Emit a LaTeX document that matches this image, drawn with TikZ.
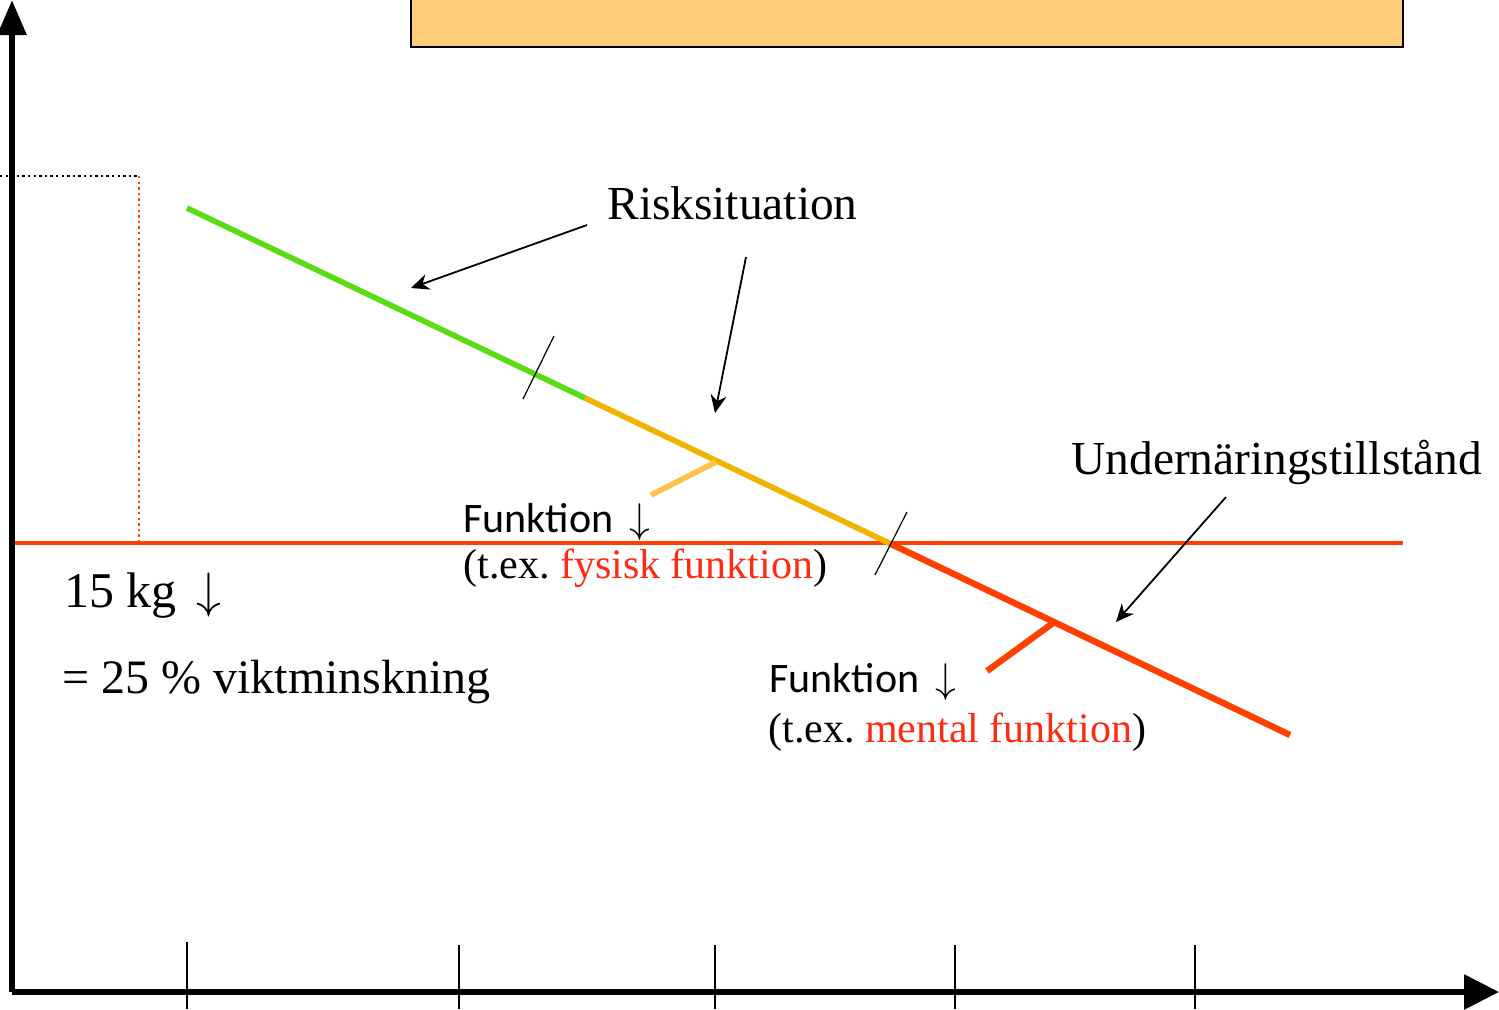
\documentclass[tikz,border=0pt]{standalone}
\usepackage{fontspec}
\setmainfont{Liberation Serif}
\newfontfamily\calfont{Carlito}
\usetikzlibrary{arrows.meta}
\definecolor{boxfill}{HTML}{FFCC77}
\definecolor{lgreen}{HTML}{5ADC14}
\definecolor{gold}{HTML}{F0B400}
\definecolor{redline}{HTML}{FF4000}
\definecolor{lorange}{HTML}{FFC24A}
\definecolor{txtred}{HTML}{FF2A10}
\newcommand{\dnarr}{\hspace{3.5pt}$\downarrow$}
\tikzset{
  axis/.style={line width=3pt},
  thin tick/.style={line width=0.6pt},
  callout/.style={line width=0.9pt,-{Stealth[length=9pt,width=8pt]}},
  dotline/.style={line width=1.1pt,dash pattern=on 1.2pt off 1.6pt},
  bigtxt/.style={anchor=base west,inner sep=0pt,font=\fontsize{23.7}{28}\selectfont},
  lbltxt/.style={anchor=base west,inner sep=0pt,font=\fontsize{21}{25}\selectfont},
  caltxt/.style={anchor=base west,inner sep=0pt,font=\calfont\fontsize{21}{25}\selectfont},
}
\begin{document}
\frenchspacing
\begin{tikzpicture}[x=0.5pt,y=-0.5pt]
\useasboundingbox (0,0) rectangle (1499,1009);
\clip (0,0) rectangle (1499,1009);
% top box
\draw[fill=boxfill,line width=1.2pt] (411,-10) rectangle (1403,47);
% dotted guides
\coordinate (d0) at (0,176);
\coordinate (d1) at (139,176);
\coordinate (d2) at (139,543);
\draw[dotline] (d0) -- (d1);
\draw[dotline,redline] (d1) -- (d2);
% horizontal red line
\coordinate (h0) at (12,543);
\coordinate (h1) at (1403,543);
\draw[redline,line width=1.9pt] (h0) -- (h1);
% diagonal
\coordinate (g0) at (187,208);
\coordinate (g1) at (585,398);
\coordinate (o1) at (890,543.5);
\coordinate (r1) at (1290,735);
\draw[lgreen,line width=2.8pt] (g0) -- (g1);
\draw[gold,line width=2.8pt] (g1) -- (o1);
\draw[redline,line width=3.2pt] (o1) -- (r1);
% branches
\coordinate (b0) at (716,462);
\coordinate (b1) at (651,495);
\draw[lorange,line width=2.8pt] (b0) -- (b1);
\coordinate (c0) at (1053,623);
\coordinate (c1) at (987,671);
\draw[redline,line width=3.2pt] (c0) -- (c1);
% slash marks
\coordinate (s0) at (523,399);
\coordinate (s1) at (554,336);
\draw[thin tick] (s0) -- (s1);
\coordinate (t0) at (875,575);
\coordinate (t1) at (907,512);
\draw[thin tick] (t0) -- (t1);
% axes
\coordinate (origin) at (12,992);
\coordinate (ytop) at (12,0);
\coordinate (xend) at (1499,992);
\draw[axis,-{Triangle[length=17.5pt,width=14pt]}] (origin) -- (ytop);
\draw[axis,-{Triangle[length=17.5pt,width=17pt]}] (origin) -- (xend);
% bottom ticks
\foreach \xx/\yy [count=\i] in {187/942,459/945,715/945,955/945,1195/945}{
  \coordinate (k\i a) at (\xx,\yy);
  \coordinate (k\i b) at (\xx,1009);
  \draw[thin tick] (k\i a) -- (k\i b);
}
% labels
\node[bigtxt] (risk) at (607,219) {Risksituation};
\node[bigtxt] (under) at (1071,474) {Undernäringstillstånd};
\coordinate (ra0) at (587,225);
\coordinate (ra1) at (411,288);
\coordinate (rb0) at (746,257);
\coordinate (rb1) at (715,413);
\coordinate (ua0) at (1226,497);
\coordinate (ua1) at (1116,622);
\draw[callout] (ra0) -- (ra1);
\draw[callout] (rb0) -- (rb1);
\draw[callout] (ua0) -- (ua1);
\node[caltxt] (f1) at (463,532) {Funktion\ \dnarr};
\node[lbltxt] (f1b) at (463,578) {(t.ex. \textcolor{txtred}{fysisk funktion})};
\node[caltxt] (f2) at (769,692) {Funktion\ \dnarr};
\node[lbltxt] (f2b) at (768,742) {(t.ex. \textcolor{txtred}{mental funktion})};
\node[bigtxt,font=\fontsize{25}{30}\selectfont] (kg) at (64,607) {15 kg\ \dnarr};
\node[bigtxt,font=\fontsize{24}{29}\selectfont] (pct) at (62,693) {= 25 \% viktminskning};
\end{tikzpicture}
\end{document}
